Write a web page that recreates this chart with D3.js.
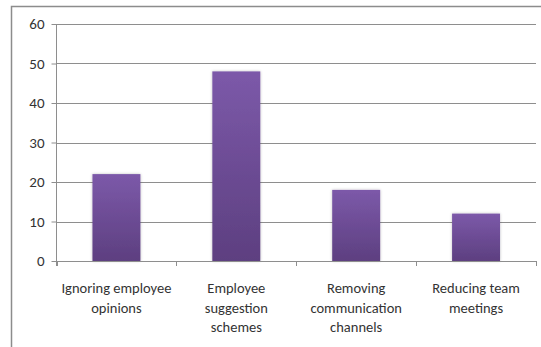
<!DOCTYPE html>
<html>
<head>
<meta charset="utf-8">
<script src="https://cdn.jsdelivr.net/npm/d3@7"></script>
<style>
  html, body { margin: 0; padding: 0; background: #fff; }
  svg { display: block; }
  text { font-family: Carlito, Calibri, Lato, "Open Sans", sans-serif; fill: #333; }
</style>
</head>
<body>
<svg id="chart" width="541" height="347"></svg>
<script>
// Chart data
const categories = [
  ["Ignoring employee", "opinions"],
  ["Employee", "suggestion", "schemes"],
  ["Removing", "communication", "channels"],
  ["Reducing team", "meetings"]
];
const values = [22, 48, 18, 12];
const yTicks = [0, 10, 20, 30, 40, 50, 60];

const svg = d3.select("#chart");
const plot = { left: 56.5, right: 536, top: 24, bottom: 261 };

// Frame of the chart area
svg.append("path")
  .attr("d", "M11.5,347 V6.5 H541")
  .attr("fill", "none")
  .attr("stroke", "#8c8c8c")
  .attr("stroke-width", 1.5);

const keys = categories.map((c, i) => i);
const x = d3.scaleBand().domain(keys).range([plot.left, plot.right])
  .paddingInner(0.6).paddingOuter(0.3);
const xEdge = d3.scaleLinear().domain([0, categories.length]).range([plot.left, plot.right]);
const y = d3.scaleLinear().domain([0, 60]).range([plot.bottom, plot.top]);

// Bar fill gradient
const defs = svg.append("defs");
const grad = defs.append("linearGradient").attr("id", "barGrad")
  .attr("x1", 0).attr("y1", 0).attr("x2", 0).attr("y2", 1);
grad.append("stop").attr("offset", "0%").attr("stop-color", "#7c59a9");
grad.append("stop").attr("offset", "100%").attr("stop-color", "#5d3f80");
const shadow = defs.append("filter").attr("id", "barShadow")
  .attr("x", "-20%").attr("y", "-10%").attr("width", "140%").attr("height", "120%");
shadow.append("feGaussianBlur").attr("in", "SourceAlpha").attr("stdDeviation", 1.5).attr("result", "b");
shadow.append("feOffset").attr("in", "b").attr("dx", 0).attr("dy", 0).attr("result", "o");
shadow.append("feComponentTransfer").attr("in", "o").attr("result", "s")
  .append("feFuncA").attr("type", "linear").attr("slope", 0.25);
const merge = shadow.append("feMerge");
merge.append("feMergeNode").attr("in", "s");
merge.append("feMergeNode").attr("in", "SourceGraphic");

// Horizontal gridlines
svg.append("g").selectAll("line").data(yTicks.filter(t => t > 0)).join("line")
  .attr("x1", plot.left).attr("x2", plot.right)
  .attr("y1", d => Math.round(y(d)) + 0.5).attr("y2", d => Math.round(y(d)) + 0.5)
  .attr("stroke", "#8e8e8e").attr("stroke-width", 1);

// Y axis
const yAxis = d3.axisLeft(y).tickValues(yTicks).tickSize(5).tickPadding(7).tickFormat(d3.format("d"));
const gy = svg.append("g").attr("transform", `translate(${plot.left},0)`).call(yAxis);
gy.select(".domain").attr("stroke", "#8e8e8e").attr("d", `M0,${plot.top}V${plot.bottom + 5}`);
gy.selectAll(".tick line").attr("stroke", "#8e8e8e");
gy.selectAll(".tick text").attr("font-size", 15).attr("fill", "#333")
  .attr("font-family", "Carlito, Calibri, Lato, sans-serif");

// Bars
svg.append("g").selectAll("rect").data(values).join("rect")
  .attr("x", (d, i) => x(i))
  .attr("width", x.bandwidth())
  .attr("y", d => y(d))
  .attr("height", d => y(0) - y(d))
  .attr("fill", "url(#barGrad)")
  .attr("filter", "url(#barShadow)");

// X axis baseline and category boundary ticks
const gx = svg.append("g");
gx.append("line")
  .attr("x1", plot.left).attr("x2", plot.right)
  .attr("y1", Math.round(y(0)) + 0.5).attr("y2", Math.round(y(0)) + 0.5)
  .attr("stroke", "#8e8e8e");
gx.selectAll("line.tk").data(d3.range(categories.length + 1)).join("line")
  .attr("class", "tk")
  .attr("x1", d => Math.round(xEdge(d)) + 0.5).attr("x2", d => Math.round(xEdge(d)) + 0.5)
  .attr("y1", y(0)).attr("y2", y(0) + 5)
  .attr("stroke", "#8e8e8e");

// Category labels
const lab = svg.append("g").selectAll("text").data(categories).join("text")
  .attr("text-anchor", "middle")
  .attr("font-size", 14.5)
  .attr("x", (d, i) => x(i) + x.bandwidth() / 2)
  .attr("y", 293);
lab.selectAll("tspan").data(d => d).join("tspan")
  .attr("x", function () { return d3.select(this.parentNode).attr("x"); })
  .attr("dy", (d, i) => i === 0 ? 0 : 19.5)
  .text(d => d);
</script>
</body>
</html>
